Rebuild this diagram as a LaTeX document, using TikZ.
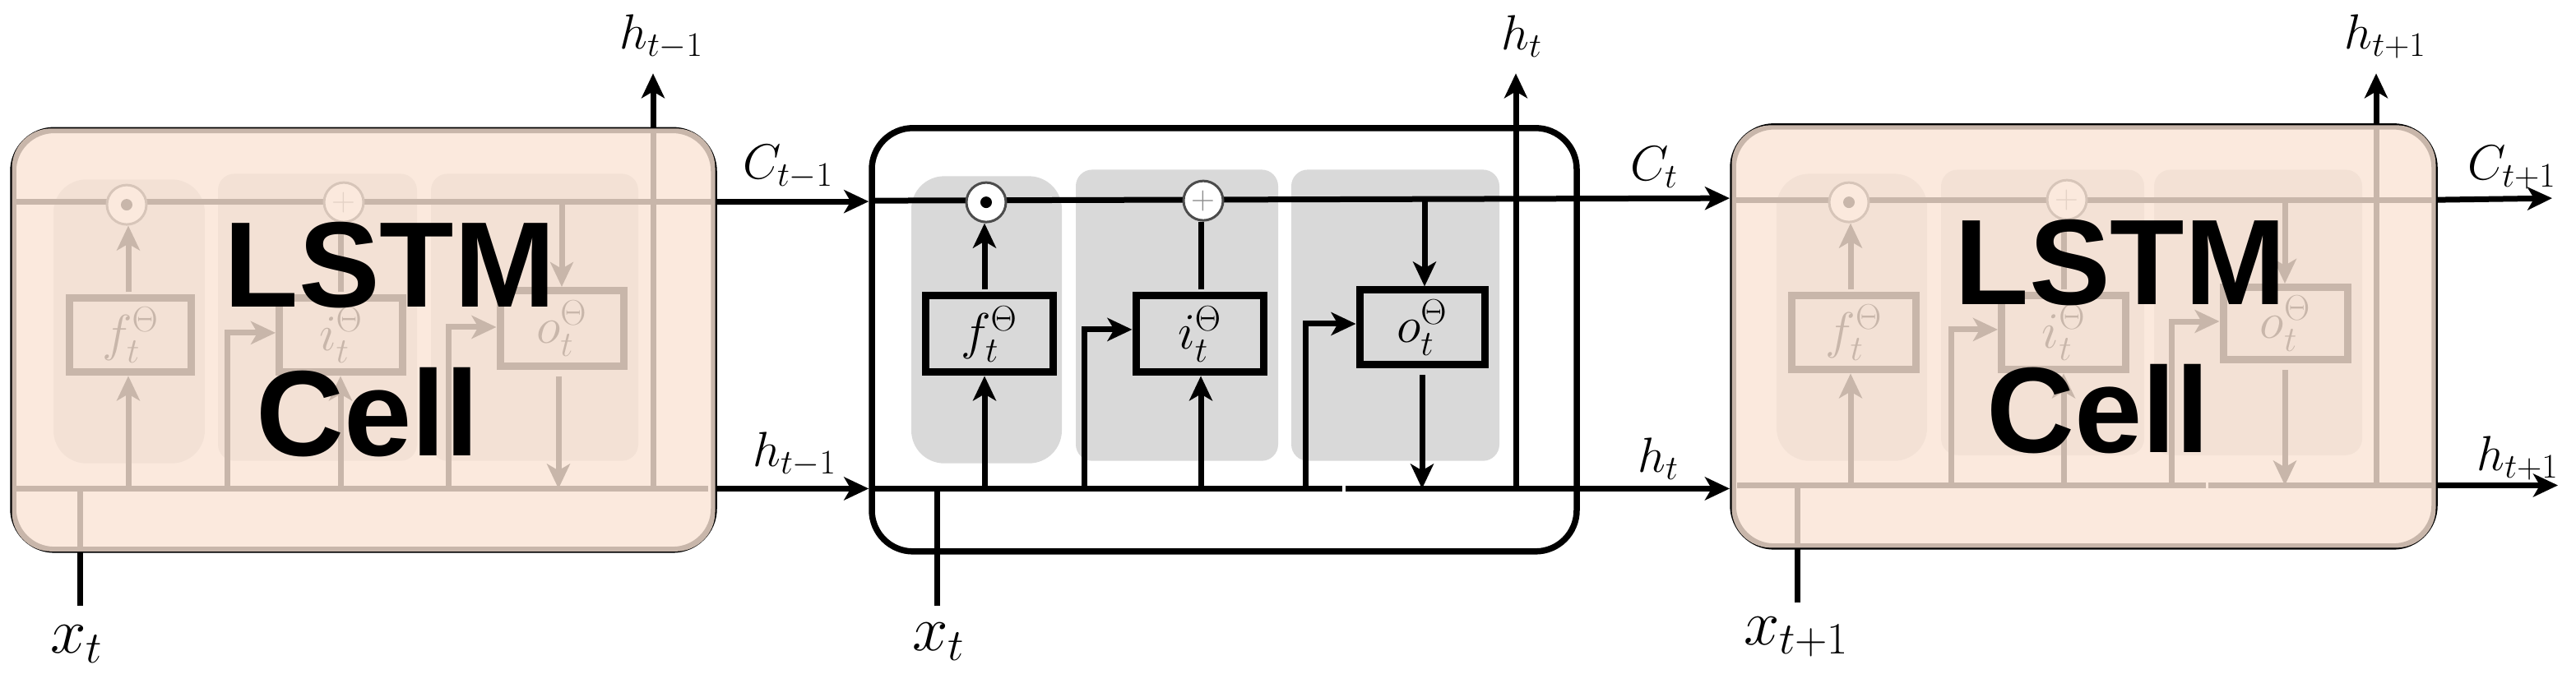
\RequirePackage{fix-cm}
\documentclass[tikz,border=0pt]{standalone}
\usepackage{fontspec}
\newfontfamily\lsfont{Liberation Sans}
\usetikzlibrary{arrows.meta,calc}
\definecolor{panelgrey}{RGB}{217,217,217}
\definecolor{veil}{RGB}{250,228,213}
\tikzset{
  x=0.5pt,y=-0.4962pt,
  ln/.style={line width=3.5pt,line cap=butt},
  arr/.style={ln,-{Stealth[length=15pt,width=14pt,inset=4pt]}},
  cellbox/.style={draw=black,line width=3.75pt,rounded corners=25pt,inner sep=0pt},
  panel/.style={fill=panelgrey,draw=none,inner sep=0pt},
  fn/.style={draw=black,fill=none,line width=4.5pt,inner sep=0pt,font=\fontsize{31}{34}\selectfont},
  gate/.style={circle,draw=black!70,line width=1.5pt,fill=white,minimum size=24pt,inner sep=0pt},
  dotmark/.style={circle,fill=black,minimum size=7pt,inner sep=0pt},
  plusmark/.style={font=\fontsize{20}{20}\selectfont,text=black!45},
  lab/.style={inner sep=0pt,font=\fontsize{30}{33}\selectfont},
  xlab/.style={inner sep=0pt,font=\fontsize{39}{42}\selectfont},
  big/.style={inner sep=0pt,font=\fontsize{74}{80}\lsfont\bfseries\selectfont},
  veiled/.style={fill=veil,fill opacity=.8,draw=none,rounded corners=24pt},
}
\newcommand{\rbox}[6]{\node[#6,minimum width={(#4-#2)*0.5pt},minimum height={(#5-#3)*0.4962pt}] (#1) at ({(#2+#4)/2},{(#3+#5)/2}) {};}
\begin{document}
\begin{tikzpicture}
\useasboundingbox (0,0) rectangle (3132,825.3);
% ---------- left cell ----------
\rbox{apa}{65}{220}{249}{568}{panel,rounded corners=20pt}
\rbox{apb}{265}{213}{507}{565}{panel,rounded corners=10pt}
\rbox{apc}{524}{213}{776}{565}{panel,rounded corners=10pt}
\rbox{acell}{16}{159.5}{868}{674}{cellbox}
\coordinate (aCl) at (17,247); \coordinate (aCr) at (865,247);
\coordinate (aHl) at (17,599); \coordinate (aHr) at (861,599);
\draw[ln] (aCl) -- (aCr);
\draw[ln] (aHl) -- (aHr);
\node[gate] (aod) at (154,251) {}; \node[dotmark] at (aod) {};
\node[gate] (apl) at (418,248) {}; \node[plusmark] at (apl) {+};
\node[fn,minimum width=74pt,minimum height=45pt] (af) at (158.5,411) {$f_t^{\Theta}$};
\node[fn,minimum width=75pt,minimum height=45pt] (ai) at (414.5,411) {$i_t^{\Theta}$};
\node[fn,minimum width=75pt,minimum height=46pt] (ao) at (683,402.5) {$o_t^{\Theta}$};
\coordinate (afH) at (156,599); \coordinate (aiH) at (414,599);
\coordinate (abH) at (276,599); \coordinate (acH) at (545,599);
\coordinate (aoC) at (683,247); \coordinate (aoH) at (679,599);
\coordinate (axH) at (97,599); \coordinate (axE) at (97,743);
\coordinate (ahH) at (794,599); \coordinate (ahT) at (794,90);
\draw[arr] (afH) -- (afH |- af.south);
\draw[arr] (af.north -| afH) ++(0,-3) -- (afH |- aod.south);
\draw[arr] (aiH) -- (aiH |- ai.south);
\draw[ln] (ai.north -| aiH) ++(0,-3) -- (aiH |- apl.south);
\draw[arr] (abH) |- (ai.west |- 0,408);
\draw[arr] (acH) |- (ao.west |- 0,401);
\draw[arr] (aoC) -- (ao.north -| aoC);
\draw[arr] (ao.south -| aoH) ++(0,8) -- (aoH);
\draw[ln] (axE) -- (axH);
\draw[arr] (ahH) -- (ahT);
\draw[veiled] (14.5,157.5) rectangle (869.5,676);
\node[big] (alstm) at (474,325) {LSTM};
\node[big] (acl) at (447,505) {Cell};
\node[lab] (ahtop) at (804,45) {$h_{t-1}$};
\node[lab] (aClab) at (958,205) {$C_{t-1}$};
\node[lab] (aHlab) at (966,557) {$h_{t-1}$};
\node[xlab] (axlab) at (93,790) {$x_t$};
% ---------- middle cell ----------
\rbox{bpa}{1108}{216}{1291}{568}{panel,rounded corners=20pt}
\rbox{bpb}{1308}{208}{1554}{565}{panel,rounded corners=10pt}
\rbox{bpc}{1570}{208}{1823}{565}{panel,rounded corners=10pt}
\rbox{bcell}{1060}{157}{1917}{676}{cellbox}
\coordinate (aCo) at (872,247); \coordinate (aHo) at (872,599);
\draw[arr] (aCo) -- (aCo -| bcell.west);
\draw[arr] (aHo) -- (aHo -| bcell.west);
\coordinate (bCl) at (1060,246); \coordinate (bHl) at (1060,599);
\coordinate (bg1) at (1632,599); \coordinate (bg2) at (1636,599);
\coordinate (cTipC) at (2103,243);
\coordinate (cTipH) at (2103,599);
\draw[arr] (bCl) -- (cTipC);
\draw[ln] (bHl) -- (bg1);
\node[gate] (bod) at (1199,248) {}; \node[dotmark] at (bod) {};
\node[gate] (bpl) at (1463,246) {}; \node[plusmark] at (bpl) {+};
\node[fn,minimum width=77.5pt,minimum height=46.5pt] (bf) at (1202.5,409.5) {$f_t^{\Theta}$};
\node[fn,minimum width=77.5pt,minimum height=46.5pt] (bi) at (1458.5,409.5) {$i_t^{\Theta}$};
\node[fn,minimum width=76pt,minimum height=45.5pt] (bo) at (1729,401.5) {$o_t^{\Theta}$};
\coordinate (bfH) at (1197,599); \coordinate (biH) at (1460,599);
\coordinate (bbH) at (1318.5,599); \coordinate (bcH) at (1587,599);
\coordinate (boC) at (1732,245); \coordinate (boH) at (1729,599);
\coordinate (bxH) at (1139,599); \coordinate (bxE) at (1139,743);
\coordinate (bhH) at (1843,599); \coordinate (bhT) at (1843,90);
\draw[arr] (bfH) -- (bfH |- bf.south);
\draw[arr] (bf.north -| bfH) ++(0,-3) -- (bfH |- bod.south);
\draw[arr] (biH) -- (biH |- bi.south);
\draw[ln] (bi.north -| biH) ++(0,-3) -- (biH |- bpl.south);
\draw[arr] (bbH) |- (bi.west |- 0,404);
\draw[arr] (bcH) |- (bo.west |- 0,397);
\draw[arr] (boC) -- (bo.north -| boC);
\draw[arr] (bo.south -| boH) ++(0,8) -- (boH);
\draw[ln] (bxE) -- (bxH);
\draw[arr] (bhH) -- (bhT);
\draw[arr] (bg2) -- (cTipH);
\node[lab] (bhtop) at (1850,45) {$h_t$};
\node[lab] (bClab) at (2011,205) {$C_t$};
\node[lab] (bHlab) at (2016,562) {$h_t$};
\node[xlab] (bxlab) at (1141,787) {$x_t$};
% ---------- right cell ----------
\rbox{cpa}{2160}{213}{2343}{565}{panel,rounded corners=20pt}
\rbox{cpb}{2360}{208}{2607}{558}{panel,rounded corners=10pt}
\rbox{cpc}{2619}{208}{2872}{558}{panel,rounded corners=10pt}
\rbox{ccell}{2107}{155}{2960}{670}{cellbox}
\coordinate (cCl) at (2107,245); \coordinate (cCr) at (2960,245);
\coordinate (cHl) at (2112,595); \coordinate (cg1) at (2682,595);
\coordinate (cg2) at (2685,595); \coordinate (cHr) at (2960,595);
\draw[ln] (cCl) -- (cCr);
\draw[ln] (cHl) -- (cg1);
\draw[ln] (cg2) -- (cHr);
\node[gate] (cod) at (2248,248) {}; \node[dotmark] at (cod) {};
\node[gate] (cpl) at (2513,245) {}; \node[plusmark] at (cpl) {+};
\node[fn,minimum width=75.5pt,minimum height=45pt] (cf) at (2254,408) {$f_t^{\Theta}$};
\node[fn,minimum width=75.5pt,minimum height=45pt] (ci) at (2509,408) {$i_t^{\Theta}$};
\node[fn,minimum width=75.5pt,minimum height=44pt] (co) at (2778.5,396.5) {$o_t^{\Theta}$};
\coordinate (cfH) at (2250,595); \coordinate (ciH) at (2509,595);
\coordinate (cbH) at (2372,595); \coordinate (ccH) at (2640,595);
\coordinate (coC) at (2778,245); \coordinate (coH) at (2778,595);
\coordinate (cxH) at (2185,595); \coordinate (cxE) at (2185,739);
\coordinate (chH) at (2889,595); \coordinate (chT) at (2889,90);
\draw[arr] (cfH) -- (cfH |- cf.south);
\draw[arr] (cf.north -| cfH) ++(0,-3) -- (cfH |- cod.south);
\draw[arr] (ciH) -- (ciH |- ci.south);
\draw[ln] (ci.north -| ciH) ++(0,-3) -- (ciH |- cpl.south);
\draw[arr] (cbH) |- (ci.west |- 0,404);
\draw[arr] (ccH) |- (co.west |- 0,394);
\draw[arr] (coC) -- (co.north -| coC);
\draw[arr] (co.south -| coH) ++(0,8) -- (coH);
\draw[ln] (cxE) -- (cxH);
\draw[arr] (chH) -- (chT);
\draw[veiled] (2105.5,153.5) rectangle (2961.5,671.5);
\coordinate (cCo) at (2964,245); \coordinate (cCe) at (3103,243);
\coordinate (cHo) at (2964,595); \coordinate (cHe) at (3110,595);
\draw[arr] (cCo) -- (cCe);
\draw[arr] (cHo) -- (cHe);
\node[big] (clstm) at (2578,322) {LSTM};
\node[big] (ccl) at (2551,501) {Cell};
\node[lab] (chtop) at (2900,45) {$h_{t+1}$};
\node[lab] (cClab) at (3054,205) {$C_{t+1}$};
\node[lab] (cHlab) at (3061,562) {$h_{t+1}$};
\node[xlab] (cxlab) at (2184,781) {$x_{t+1}$};
\end{tikzpicture}
\end{document}
